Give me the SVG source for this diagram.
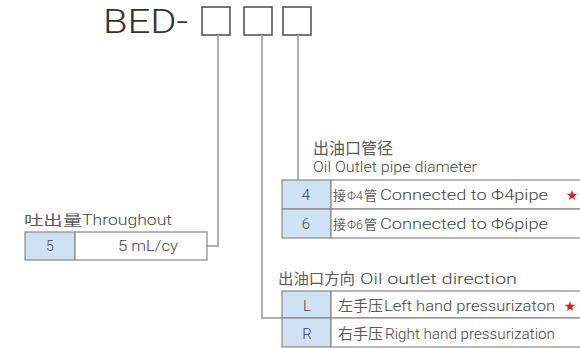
<svg xmlns="http://www.w3.org/2000/svg" width="580" height="348" viewBox="0 0 580 348">
<style>
.t{font-family:Roboto,"Liberation Sans",Arial,"Noto Sans CJK SC",sans-serif;font-weight:300;fill:#444}
.c{font-family:"Noto Sans CJK SC","Liberation Sans",sans-serif;fill:#5a5a5a}
.cell{fill:#cfe2f3;stroke:#888;stroke-width:1.2}
.wcell{fill:#fff;stroke:#888;stroke-width:1.2}
.ln{fill:none;stroke:#999;stroke-width:1.5}
.box{fill:#fff;stroke:#555;stroke-width:1.6}
.star{fill:#e02020}
</style>
<rect width="580" height="348" fill="#fff"/>
<g id="title">
<text class="t" x="103" y="33" font-size="33" textLength="85" lengthAdjust="spacingAndGlyphs" style="fill:#333">BED-</text>
<rect class="box" x="202" y="7" width="28" height="28"/>
<rect class="box" x="244" y="7" width="28" height="28"/>
<rect class="box" x="283" y="7" width="28" height="28"/>
</g>
<g id="connectors">
<polyline class="ln" points="218,35 218,246 207,246"/>
<polyline class="ln" points="262,35 262,318 282,318"/>
<polyline class="ln" points="298,35 298,180"/>
</g>
<g id="throughout">
<text class="c" x="24" y="225" font-size="14" textLength="58" lengthAdjust="spacingAndGlyphs">吐出量</text>
<text class="t" x="82" y="225" font-size="14" textLength="90" lengthAdjust="spacingAndGlyphs">Throughout</text>
<rect class="cell" x="25" y="232" width="50" height="28"/>
<rect class="wcell" x="75" y="232" width="132" height="28"/>
<text class="t" x="50" y="251" font-size="14" text-anchor="middle">5</text>
<text class="t" x="118" y="251" font-size="15" textLength="60" lengthAdjust="spacingAndGlyphs">5 mL/cy</text>
</g>
<g id="diameter">
<text class="c" x="313" y="154" font-size="16" textLength="80" lengthAdjust="spacingAndGlyphs">出油口管径</text>
<text class="t" x="313" y="172" font-size="14" textLength="164" lengthAdjust="spacingAndGlyphs">Oil Outlet pipe diameter</text>
<rect class="cell" x="282" y="180" width="49" height="29"/>
<rect class="wcell" x="331" y="180" width="252" height="29"/>
<rect class="cell" x="282" y="209" width="49" height="29"/>
<rect class="wcell" x="331" y="209" width="252" height="29"/>
<text class="t" x="306" y="200" font-size="15" text-anchor="middle">4</text>
<text class="c" x="333" y="200" font-size="13">接</text>
<text class="t" x="347" y="200" font-size="12.5">Φ4</text>
<text class="c" x="364" y="200" font-size="13">管</text>
<text class="t" x="380" y="200" font-size="14" textLength="168" lengthAdjust="spacingAndGlyphs">Connected to Φ4pipe</text>
<text class="star" x="572" y="200" font-size="14" text-anchor="middle" font-family="DejaVu Sans,sans-serif">★</text>
<text class="t" x="306" y="229" font-size="15" text-anchor="middle">6</text>
<text class="c" x="333" y="229" font-size="13">接</text>
<text class="t" x="347" y="229" font-size="12.5">Φ6</text>
<text class="c" x="364" y="229" font-size="13">管</text>
<text class="t" x="380" y="229" font-size="14" textLength="168" lengthAdjust="spacingAndGlyphs">Connected to Φ6pipe</text>
</g>
<g id="direction">
<text class="c" x="278" y="284" font-size="15" textLength="77" lengthAdjust="spacingAndGlyphs">出油口方向</text>
<text class="t" x="360" y="284" font-size="14" textLength="157" lengthAdjust="spacingAndGlyphs">Oil outlet direction</text>
<rect class="cell" x="282" y="291" width="49" height="27"/>
<rect class="wcell" x="331" y="291" width="252" height="27"/>
<rect class="cell" x="282" y="318" width="49" height="29"/>
<rect class="wcell" x="331" y="318" width="252" height="29"/>
<text class="t" x="307" y="311" font-size="15" text-anchor="middle">L</text>
<text class="c" x="338" y="311" font-size="15" textLength="45" lengthAdjust="spacingAndGlyphs">左手压</text>
<text class="t" x="384" y="311" font-size="14" textLength="171" lengthAdjust="spacingAndGlyphs">Left hand pressurizaton</text>
<text class="star" x="570" y="311" font-size="14" text-anchor="middle" font-family="DejaVu Sans,sans-serif">★</text>
<text class="t" x="307" y="339" font-size="15" text-anchor="middle">R</text>
<text class="c" x="338" y="339" font-size="15" textLength="45" lengthAdjust="spacingAndGlyphs">右手压</text>
<text class="t" x="385" y="339" font-size="14" textLength="170" lengthAdjust="spacingAndGlyphs">Right hand pressurization</text>
</g>
</svg>
